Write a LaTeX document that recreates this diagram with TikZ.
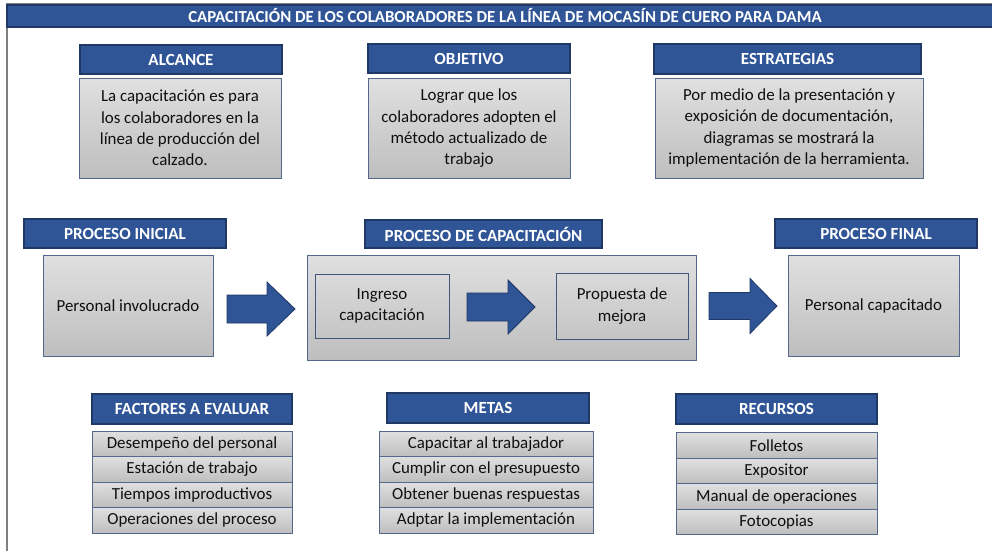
\documentclass[tikz,border=0pt]{standalone}
\usepackage{fontspec}
\setmainfont{Carlito}
\definecolor{hdrblue}{RGB}{47,85,151}
\definecolor{hdrborder}{RGB}{32,56,100}
\definecolor{boxborder}{RGB}{84,104,140}
\definecolor{boxtop}{RGB}{224,224,224}
\definecolor{boxbot}{RGB}{190,190,190}
\definecolor{framegray}{RGB}{128,128,128}
\definecolor{txt}{RGB}{15,15,15}
\begin{document}
\begin{tikzpicture}[x=1pt,y=-1pt,
  every node/.style={inner sep=0pt,outer sep=0pt},
  hdr/.style={draw=hdrborder,fill=hdrblue,line width=1.4pt,text=white,
    font=\fontsize{17}{20}\selectfont\bfseries,align=center},
  body/.style={draw=boxborder,line width=0.9pt,top color=boxtop,bottom color=boxbot,
    text=txt,font=\fontsize{16.9}{21.3}\selectfont,align=center},
  inbox/.style={draw=hdrborder!85,line width=0.9pt,text=txt,
    font=\fontsize{16.9}{21.3}\selectfont,align=center},
  item/.style={body,minimum height=25.5pt},
  blkarr/.style={draw=hdrborder,fill=hdrblue,line width=0.8pt,line join=miter}
]
\useasboundingbox (0,0) rectangle (992,551);
\newcommand\blkarrow[6]{%
  \draw[blkarr] (#1,#4-#5) -- (#2,#4-#5) -- (#2,#4-#6) -- (#3,#4)
    -- (#2,#4+#6) -- (#2,#4+#5) -- (#1,#4+#5) -- cycle;}

% frame
\draw[framegray,line width=1.2pt] (7,551) -- (7,4) -- (992,4);
\node[hdr,line width=1.2pt,minimum width=996pt,minimum height=22pt,
  font=\fontsize{16.8}{19}\selectfont\bfseries] (title) at (505,16)
  {CAPACITACIÓN DE LOS COLABORADORES DE LA LÍNEA DE MOCASÍN DE CUERO PARA DAMA};

% top row
\node[hdr,minimum width=202pt,minimum height=29pt] (alcH) at (181,59.5) {ALCANCE};
\node[body,minimum width=202pt,minimum height=100pt] (alcB) at (180,128)
  {La capacitación es para\\los colaboradores en la\\línea de producción del\\calzado.};
\node[hdr,minimum width=202pt,minimum height=29pt] (objH) at (469,58.5) {OBJETIVO};
\node[body,minimum width=202pt,minimum height=100pt] (objB) at (469,128.5)
  {Lograr que los\\colaboradores adopten el\\método actualizado de\\trabajo};
\node[hdr,minimum width=267pt,minimum height=30pt] (estH) at (787.5,59) {ESTRATEGIAS};
\node[body,minimum width=268pt,minimum height=100pt] (estB) at (789,128)
  {Por medio de la presentación y\\exposición de documentación,\\diagramas se mostrará la\\implementación de la herramienta.};

% middle row
\node[hdr,minimum width=202pt,minimum height=29pt] (piH) at (125,233.5) {PROCESO INICIAL};
\node[body,minimum width=170pt,minimum height=101pt] (piB) at (128,305.5) {Personal involucrado};
\node[hdr,minimum width=237pt,minimum height=28pt] (pcH) at (483.5,234) {PROCESO DE CAPACITACIÓN};
\node[body,minimum width=389pt,minimum height=105pt] (pcB) at (501.5,307.5) {};
\node[inbox,minimum width=134pt,minimum height=64pt] (ing) at (382,306) {Ingreso\\capacitación};
\node[inbox,minimum width=132pt,minimum height=66pt] (prop) at (622,306) {Propuesta de\\mejora};
\node[hdr,minimum width=202pt,minimum height=29pt] (pfH) at (876,233.5) {PROCESO FINAL};
\node[body,minimum width=171pt,minimum height=101pt] (pfB) at (873.5,305.5) {Personal capacitado};

\blkarrow{227}{267}{295}{309}{14}{27}
\blkarrow{467}{508}{535}{307}{14}{27}
\blkarrow{709}{750}{777}{306}{13.5}{27.5}

% bottom row
\node[hdr,minimum width=200pt,minimum height=30pt] (facH) at (192,409) {FACTORES A EVALUAR};
\node[item,minimum width=200pt] (f1) at (192,443.75) {Desempeño del personal};
\node[item,minimum width=200pt] (f2) at (192,469.25) {Estación de trabajo};
\node[item,minimum width=200pt] (f3) at (192,494.75) {Tiempos improductivos};
\node[item,minimum width=200pt] (f4) at (192,520.25) {Operaciones del proceso};

\node[hdr,minimum width=202pt,minimum height=30pt] (metH) at (488,408) {METAS};
\node[item,minimum width=214pt] (m1) at (486,443.75) {Capacitar al trabajador};
\node[item,minimum width=214pt] (m2) at (486,469.25) {Cumplir con el presupuesto};
\node[item,minimum width=214pt] (m3) at (486,494.75) {Obtener buenas respuestas};
\node[item,minimum width=214pt] (m4) at (486,520.25) {Adptar la implementación};

\node[hdr,minimum width=201pt,minimum height=30pt] (recH) at (776.5,409) {RECURSOS};
\node[item,minimum width=201pt] (r1) at (776.5,445.5) {Folletos};
\node[item,minimum width=201pt] (r2) at (776.5,471) {Expositor};
\node[item,minimum width=201pt] (r3) at (776.5,496.5) {Manual de operaciones};
\node[item,minimum width=201pt] (r4) at (776.5,521.75) {Fotocopias};
\end{tikzpicture}
\end{document}
